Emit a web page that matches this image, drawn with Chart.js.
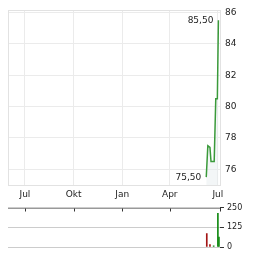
<!DOCTYPE html>
<html><head><meta charset="utf-8">
<script src="https://cdn.jsdelivr.net/npm/chart.js@4"></script>
<style>
html,body{margin:0;padding:0;background:#fff;}
#wrap{position:relative;width:264px;height:255px;overflow:hidden;}
#c1{position:absolute;left:0;top:0;}
#c2{position:absolute;left:0;top:200px;}
</style></head><body>
<div id="wrap"><canvas id="c1" width="264" height="205"></canvas><canvas id="c2" width="264" height="55"></canvas></div>
<script>
// ---- data ----
const originDate = '2024-07-01';
const tickDates = ['2024-07-01','2024-10-01','2025-01-01','2025-04-01','2025-07-01'];
const tickLabels = ['Jul','Okt','Jan','Apr','Jul'];
const priceDates  = ['2025-06-09','2025-06-12','2025-06-16','2025-06-18','2025-06-24','2025-06-27','2025-06-30','2025-07-02'];
const priceValues = [75.5, 77.5, 77.4, 76.5, 76.5, 80.5, 80.5, 85.5];
const volumeDates  = ['2025-06-10','2025-06-16','2025-06-23','2025-07-01','2025-07-03'];
const volumeValues = [86, 16, 8, 215, 63];
const volumeUp     = [false, false, true, true, true];
const priceTicks  = [76, 78, 80, 82, 84, 86];
const volumeTicks = [0, 125, 250];
const maxLabel = '85,50';
const minLabel = '75,50';

// ---- helpers ----
const DAY = 86400000;
const t0 = Date.parse(originDate);
const toDay = d => Math.round((Date.parse(d) - t0) / DAY);
const tickDays = tickDates.map(toDay);
const X_MIN = -32, X_MAX = 369;
const FONT = 'DejaVu Sans';
const TXT = '#222';

const priceData = priceDates.map((d, i) => ({x: toDay(d), y: priceValues[i]}));
const volumeData = volumeDates.map((d, i) => ({x: toDay(d), y: volumeValues[i]}));

const frame = {
  id: 'frame',
  beforeDatasetsDraw(chart) {
    const a = chart.chartArea, c = chart.ctx;
    c.save(); c.strokeStyle = '#e2e2e2'; c.lineWidth = 1;
    c.strokeRect(Math.round(a.left) + 0.5, Math.round(a.top) + 0.5, Math.round(a.right - a.left), Math.round(a.bottom - a.top));
    c.restore();
  }
};
const extremes = {
  id: 'extremes',
  afterDatasetsDraw(chart) {
    const xs = chart.scales.x, ys = chart.scales.y, c = chart.ctx;
    let iMax = 0, iMin = 0;
    priceValues.forEach((v, i) => { if (v > priceValues[iMax]) iMax = i; if (v < priceValues[iMin]) iMin = i; });
    c.save(); c.font = '9px "' + FONT + '"'; c.fillStyle = TXT; c.textAlign = 'right'; c.textBaseline = 'middle';
    c.fillText(maxLabel, xs.getPixelForValue(priceData[iMax].x) - 5, ys.getPixelForValue(priceValues[iMax]));
    c.fillText(minLabel, xs.getPixelForValue(priceData[iMin].x) - 5, ys.getPixelForValue(priceValues[iMin]));
    c.restore();
  }
};

new Chart(document.getElementById('c1'), {
  type: 'line',
  data: { datasets: [{
    data: priceData, borderColor: '#3a9a3a', borderWidth: 1.5, pointRadius: 0, tension: 0,
    fill: 'start', backgroundColor: 'rgba(228,234,238,0.45)'
  }]},
  options: {
    responsive: false, devicePixelRatio: 1, animation: false,
    layout: { padding: { left: 8, top: 6, right: 0, bottom: 0 } },
    plugins: { legend: { display: false }, tooltip: { enabled: false } },
    scales: {
      x: {
        type: 'linear', min: X_MIN, max: X_MAX,
        afterBuildTicks: s => { s.ticks = tickDays.map(v => ({value: v})); },
        afterFit: s => { s.height = 20; },
        ticks: { callback: v => tickLabels[tickDays.indexOf(v)], font: {family: FONT, size: 9}, color: TXT, padding: 4, maxRotation: 0, autoSkip: false },
        grid: { color: '#ebebeb', drawTicks: false },
        border: { color: '#e2e2e2' }
      },
      y: {
        position: 'right', min: 75.0, max: 86.13,
        afterBuildTicks: s => { s.ticks = priceTicks.map(v => ({value: v})); },
        afterFit: s => { s.width = 44; },
        ticks: { font: {family: FONT, size: 9}, color: TXT, padding: 5 },
        grid: { color: '#ebebeb', drawTicks: false },
        border: { color: '#e2e2e2' }
      }
    }
  },
  plugins: [frame, extremes]
});

const volFrame = {
  id: 'volFrame',
  afterDraw(chart) {
    const a = chart.chartArea, c = chart.ctx, xs = chart.scales.x;
    const top = Math.round(a.top) + 0.5;
    c.save(); c.strokeStyle = '#999'; c.lineWidth = 1;
    c.beginPath(); c.moveTo(a.left, top); c.lineTo(a.right + 1, top); c.stroke();
    c.strokeStyle = '#333';
    c.beginPath();
    tickDays.slice(0, -1).forEach(d => { const px = Math.round(xs.getPixelForValue(d)) + 0.5; c.moveTo(px, top); c.lineTo(px, top + 3); });
    const rx = Math.round(a.right) + 0.5; c.moveTo(rx, top - 0.5); c.lineTo(rx, top + 3);
    c.stroke(); c.restore();
  }
};

new Chart(document.getElementById('c2'), {
  type: 'bar',
  data: { datasets: [{
    data: volumeData, barThickness: 1,
    backgroundColor: volumeUp.map(u => u ? '#138a13' : '#a31515')
  }]},
  options: {
    responsive: false, devicePixelRatio: 1, animation: false,
    layout: { padding: { left: 8, top: 7, right: 0, bottom: 8 } },
    plugins: { legend: { display: false }, tooltip: { enabled: false } },
    scales: {
      x: { type: 'linear', min: X_MIN, max: X_MAX, offset: false, display: false },
      y: {
        position: 'right', min: 0, max: 250,
        afterBuildTicks: s => { s.ticks = volumeTicks.map(v => ({value: v})); },
        afterFit: s => { s.width = 44; },
        ticks: { font: {family: FONT, size: 8}, color: TXT, padding: 3 },
        grid: { color: '#cccccc', tickColor: '#333', tickLength: 4 },
        border: { display: false }
      }
    }
  },
  plugins: [volFrame]
});
</script>
</body></html>
